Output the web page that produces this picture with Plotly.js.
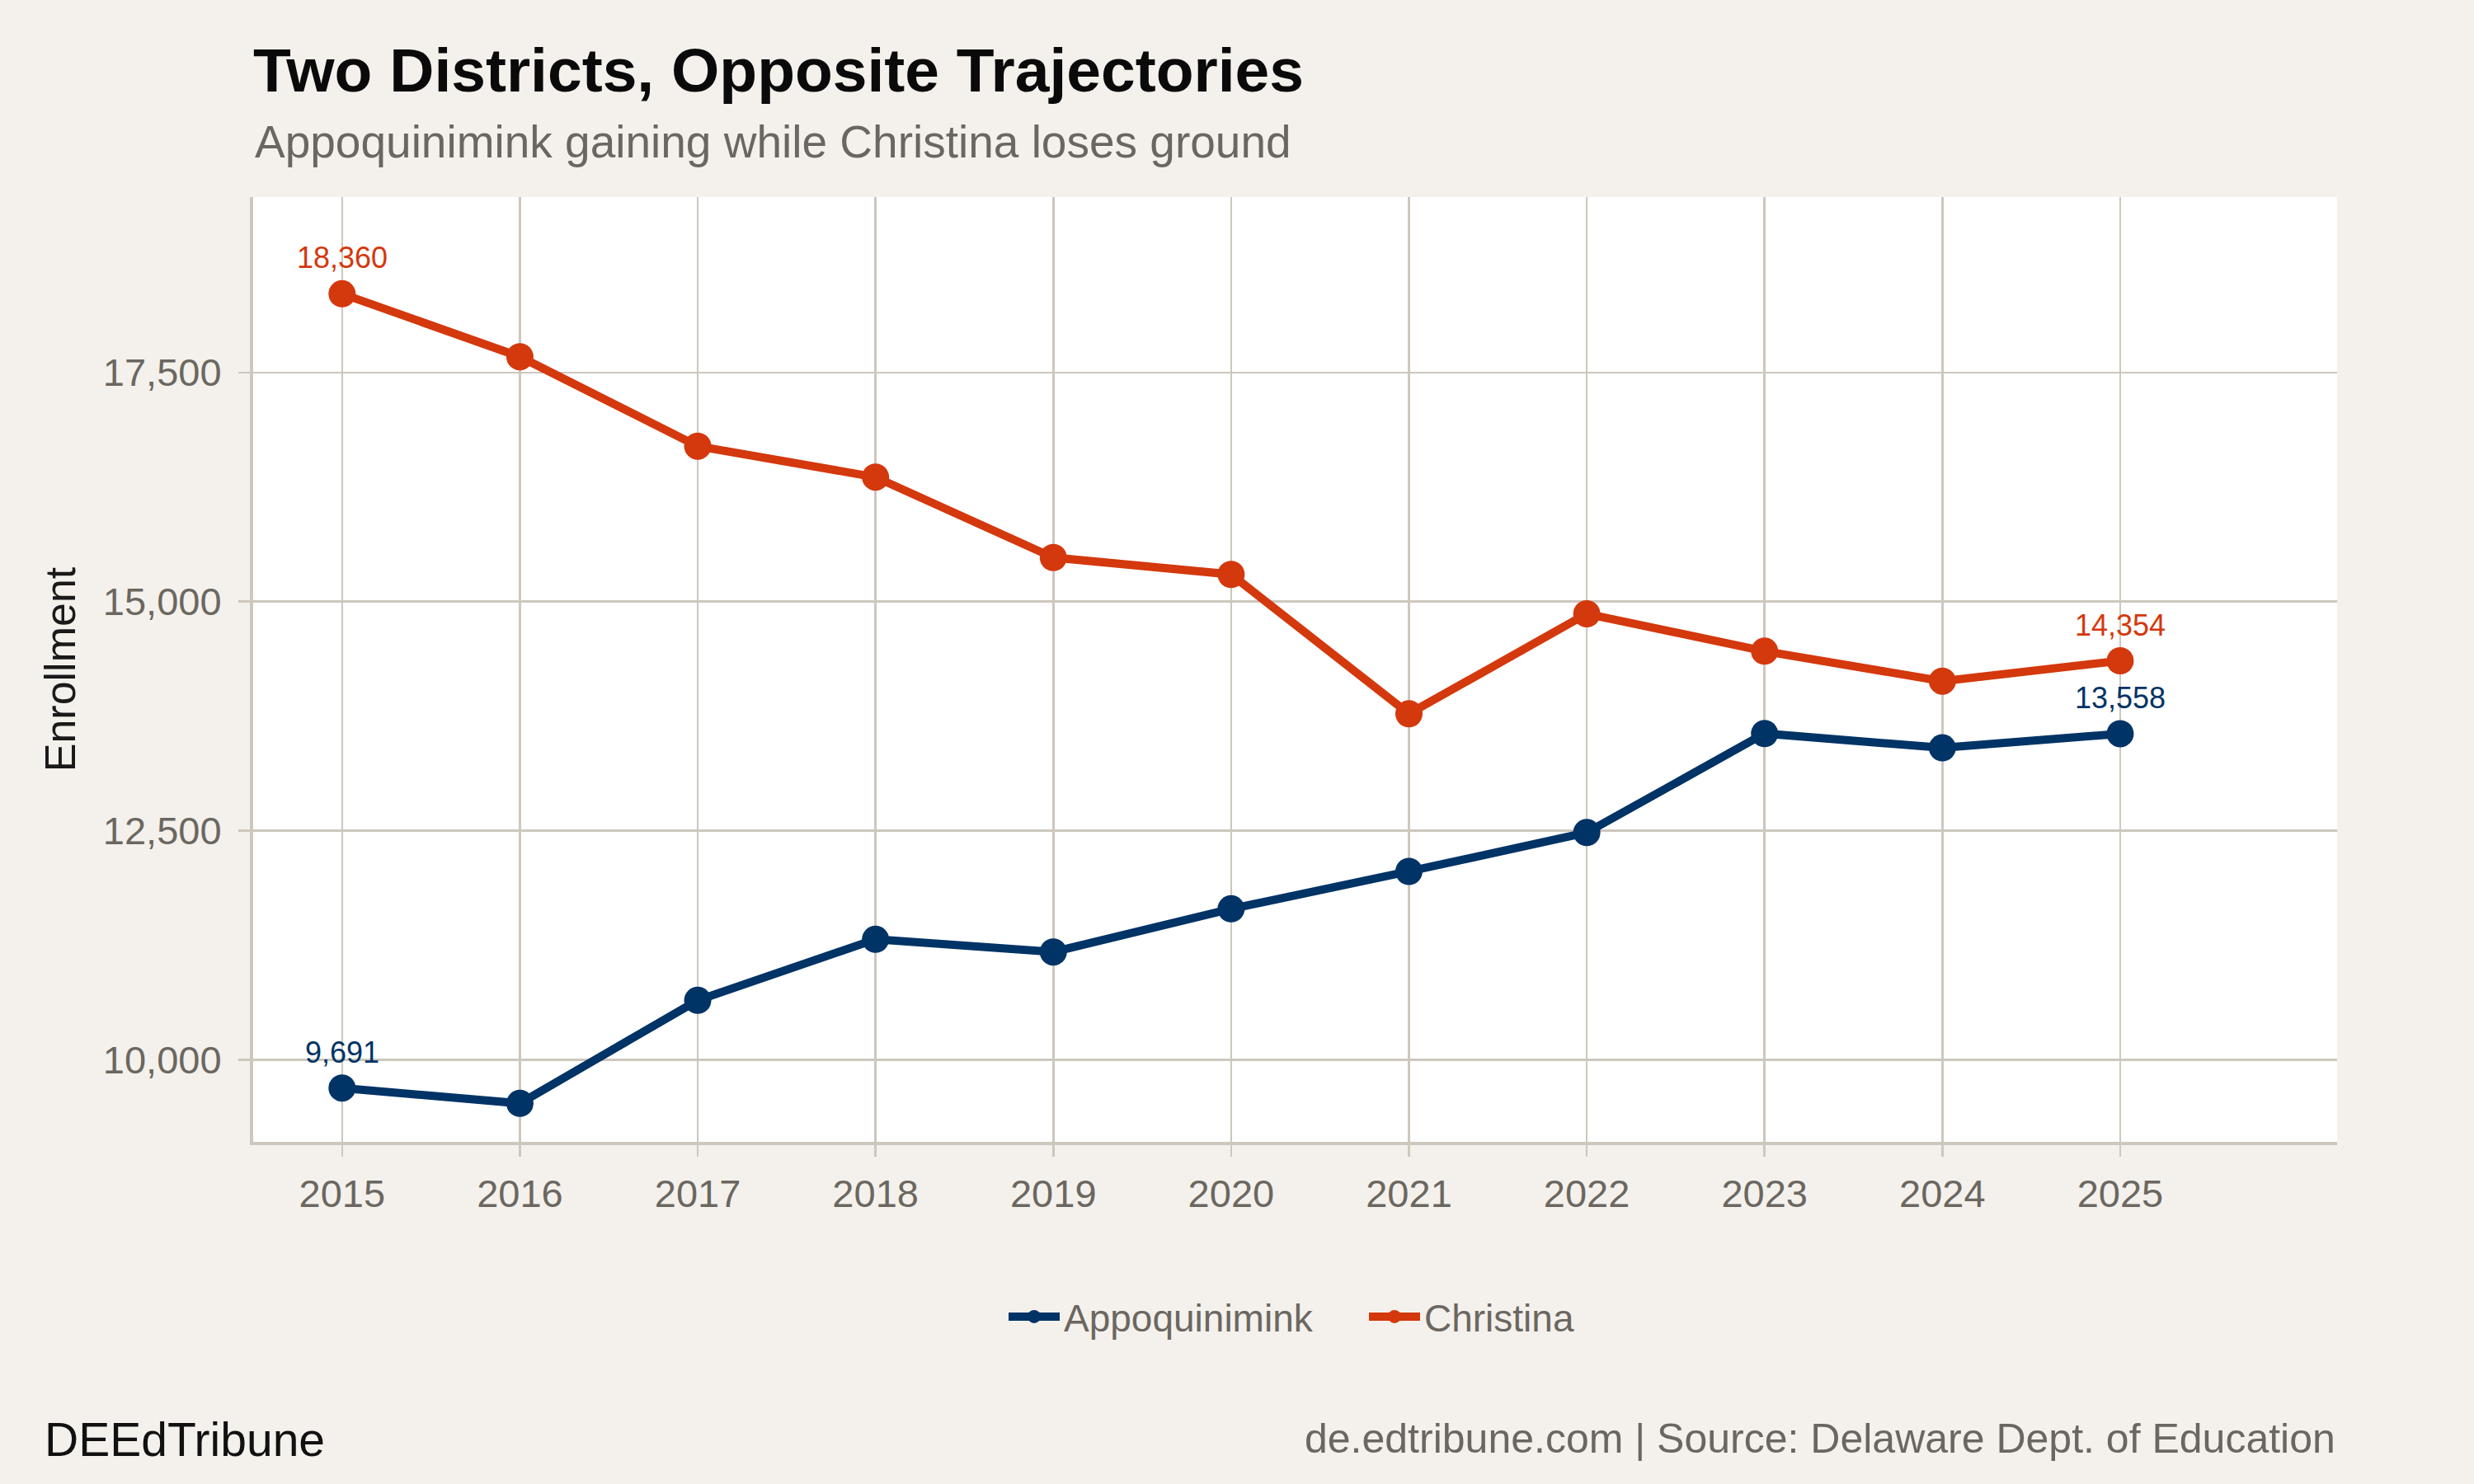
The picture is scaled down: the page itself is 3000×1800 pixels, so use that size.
<!DOCTYPE html>
<html>
<head>
<meta charset="utf-8">
<script src="https://cdn.plot.ly/plotly-3.0.1.min.js"></script>
<style>
html,body{margin:0;padding:0;background:#f4f1ec;}
#chart{width:3000px;height:1800px;}
</style>
</head>
<body>
<div id="chart"></div>
<script>
// ---- data ----
const years = [2015, 2016, 2017, 2018, 2019, 2020, 2021, 2022, 2023, 2024, 2025];
const appoquinimink = [9691, 9523, 10648, 11314, 11176, 11647, 12055, 12479, 13560, 13404, 13558];
const christina = [18360, 17673, 16697, 16359, 15481, 15297, 13776, 14867, 14459, 14132, 14354];
const seriesNames = ['Appoquinimink', 'Christina'];
const yTickVals = [10000, 12500, 15000, 17500];
const xTickVals = years;

// ---- style ----
const NAVY = '#003366';
const RED = '#D4380D';
const GREY = '#6b6760';
const GRID = '#cdc7bd';
const FONT = 'Liberation Sans, Arial, Helvetica, sans-serif';

const traces = [
  {x: years, y: appoquinimink, name: seriesNames[0], type: 'scatter', mode: 'lines+markers',
   line: {color: NAVY, width: 10}, marker: {color: NAVY, size: 33}, hoverinfo: 'skip'},
  {x: years, y: christina, name: seriesNames[1], type: 'scatter', mode: 'lines+markers',
   line: {color: RED, width: 10}, marker: {color: RED, size: 33}, hoverinfo: 'skip'}
];

const fmt = v => v.toLocaleString('en-US');
const endLabels = [];
[[appoquinimink, NAVY], [christina, RED]].forEach(([vals, col]) => {
  [0, vals.length - 1].forEach(i => {
    endLabels.push({x: years[i], y: vals[i], xref: 'x', yref: 'y', text: fmt(vals[i]),
      showarrow: false, xanchor: 'center', yanchor: 'bottom', yshift: 22, borderpad: 0,
      font: {family: FONT, size: 36, color: col}});
  });
});

const PB = 1385, H = PB - 239; // plot bottom & height px
const py = Y => (PB - Y) / H;

const annotations = endLabels.concat([
  {xref: 'paper', yref: 'paper', x: 0, y: py(172), xanchor: 'left', yanchor: 'middle',
   text: 'Appoquinimink gaining while Christina loses ground', showarrow: false,
   font: {family: FONT, size: 55, color: GREY}},
  {xref: 'paper', yref: 'paper', x: (52 - 307) / 2527, y: py(1746), xanchor: 'left', yanchor: 'middle',
   text: 'DEEdTribune', showarrow: false, font: {family: FONT, size: 57, color: '#111111'}},
  {xref: 'paper', yref: 'paper', x: 1, y: py(1745), xanchor: 'right', yanchor: 'middle',
   text: 'de.edtribune.com | Source: Delaware Dept. of Education', showarrow: false,
   font: {family: FONT, size: 50, color: GREY}}
]);

const layout = {
  width: 3000, height: 1800,
  paper_bgcolor: '#f4f1ec', plot_bgcolor: '#ffffff',
  margin: {l: 307, r: 166, t: 239, b: 1800 - PB, pad: 0},
  title: {text: 'Two Districts, Opposite Trajectories', xref: 'paper', x: 0, xanchor: 'left',
          yref: 'container', y: 1 - 85 / 1800, yanchor: 'middle',
          font: {family: FONT, size: 75, color: '#0a0a0a', weight: 700}},
  xaxis: {range: [2014.5, 2026.22], tickvals: xTickVals, ticktext: xTickVals.map(String),
          showgrid: true, gridcolor: GRID, gridwidth: 2.5, zeroline: false,
          showline: true, linecolor: GRID, linewidth: 4,
          ticks: 'outside', ticklen: 14, tickwidth: 2.5, tickcolor: GRID,
          tickfont: {family: FONT, size: 47, color: GREY}, ticklabelstandoff: 5},
  yaxis: {range: [9103, 19416], tickvals: yTickVals, tickformat: ',',
          showgrid: true, gridcolor: GRID, gridwidth: 2.5, zeroline: false,
          showline: true, linecolor: GRID, linewidth: 4,
          ticks: 'outside', ticklen: 14, tickwidth: 2.5, tickcolor: GRID,
          tickfont: {family: FONT, size: 47, color: GREY}, ticklabelstandoff: 11,
          title: {text: 'Enrollment', standoff: 18, font: {family: FONT, size: 52, color: '#1a1a1a'}}},
  showlegend: true,
  legend: {orientation: 'h', x: (1218 - 307) / 2527, xanchor: 'left', y: py(1597), yanchor: 'middle',
           font: {family: FONT, size: 46, color: GREY}, bgcolor: 'rgba(0,0,0,0)',
           itemwidth: 62, entrywidth: 360, tracegroupgap: 0},
  annotations: annotations,
  hovermode: false
};

Plotly.newPlot('chart', traces, layout, {displayModeBar: false, staticPlot: true});
</script>
</body>
</html>
